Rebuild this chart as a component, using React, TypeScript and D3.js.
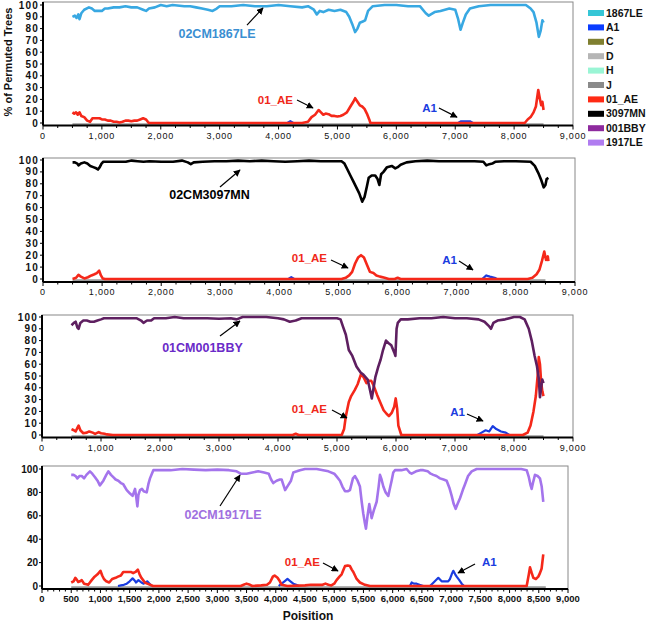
import React from "react";
import * as d3 from "d3";

type Pt = [number, number | null];

// ---------- DATA ----------
const legendNames = ["1867LE", "A1", "C", "D", "H", "J", "01_AE", "3097MN", "001BBY", "1917LE"];
const legendColors = ["#35C6D6", "#0A3CFF", "#7F7F30", "#B5B5B5", "#9AF5D5", "#8A8A8A", "#FF2A14", "#000000", "#8E2A9E", "#B07CF0"];

const p1Main: Pt[] = [[500,90],[540,91],[570,89],[600,92],[620,88],[650,93],[700,96],[780,98],[830,97],[880,95],[950,95],[1000,95],[1050,97],[1100,97],[1200,98],[1300,98],[1400,99],[1500,98],[1600,98],[1700,96],[1750,95],[1800,97],[1900,98],[2000,100],[2100,99],[2200,100],[2400,99],[2500,99],[2600,98],[2700,97],[2800,96],[2880,95],[2950,97],[3000,99],[3200,99],[3400,100],[3600,99],[3800,99],[4000,100],[4200,99],[4400,98],[4500,99],[4600,96],[4650,92],[4700,95],[4760,94],[4850,96],[4950,95],[5050,96],[5150,94],[5200,90],[5250,84],[5300,77],[5340,80],[5380,85],[5430,86],[5470,87],[5520,95],[5600,99],[5800,100],[6000,100],[6200,99],[6400,99],[6500,93],[6550,91],[6650,94],[6750,95],[6900,97],[7000,96],[7050,88],[7090,79],[7130,85],[7180,92],[7250,97],[7400,99],[7600,100],[7800,100],[8000,100],[8200,100],[8280,97],[8330,94],[8380,85],[8420,73],[8450,78],[8480,87],[8500,85]];
const p1AE: Pt[] = [[500,9],[530,8],[560,9],[590,7],[620,9],[650,6],[700,5],[750,2],[800,1],[840,4],[900,4],[960,4],[1000,3],[1050,3],[1100,2],[1150,2],[1200,1],[1250,1],[1300,0.5],[1350,1],[1400,2],[1450,2],[1500,1.5],[1550,2],[1600,2],[1650,3],[1700,4],[1750,3],[1780,1],[1800,0],[4400,0],[4500,1],[4560,5],[4620,7],[4680,11],[4720,9],[4760,7],[4800,8],[4850,7.5],[4900,6],[4950,6],[5000,5.5],[5050,6],[5100,7],[5160,9],[5220,14],[5270,18],[5300,21],[5340,18],[5380,15],[5420,14],[5460,12],[5500,8],[5540,3],[5560,0],[8180,0],[8230,3],[8280,5],[8330,9],[8370,14],[8410,28],[8440,20],[8460,15],[8480,18],[8500,11]];
const p1A1: Pt[] = [[4150,0],[4200,1.5],[4250,0],[4300,null],[7050,0],[7100,1.5],[7250,1.5],[7300,0]];
const p1J: Pt[] = [[500,-1.3],[8500,-1.3]];

const p2Main: Pt[] = [[500,98],[540,98],[580,97],[600,95.5],[640,97],[700,98],[750,97],[800,95],[850,94],[900,93],[930,92],[960,94],[990,97],[1020,98.5],[1200,98.5],[1400,98.5],[1500,99.5],[1600,99],[1700,98.5],[1800,99],[2000,98.5],[2200,98.5],[2350,99.5],[2450,98],[2500,96.5],[2550,98],[2700,98.5],[2900,99],[3100,99],[3300,99.5],[3500,99],[3700,99.5],[3900,99],[4100,98.5],[4300,99],[4500,99.5],[4700,99],[4900,99],[5050,99],[5100,97],[5150,92],[5200,87],[5250,82],[5300,77],[5350,72],[5400,65],[5440,69],[5480,78],[5510,85],[5560,87],[5620,87],[5660,84],[5690,79],[5720,88],[5760,90],[5820,94],[5900,95],[5960,93],[6000,94],[6050,96],[6150,98],[6300,99],[6500,99.5],[6700,99],[6900,99],[7100,99],[7300,99],[7450,98.5],[7500,95.5],[7550,96.5],[7600,97],[7650,98.5],[7800,99],[8000,99],[8250,98.5],[8320,95],[8380,89],[8430,83],[8470,77],[8500,79],[8520,84],[8550,85]];
const p2AE: Pt[] = [[500,0],[560,1],[600,3.5],[640,2],[700,0.5],[760,1.5],[820,3],[870,4],[910,5],[950,7],[980,3],[1010,0.5],[1050,0],[5050,0],[5120,1],[5180,3],[5230,6],[5280,13],[5330,18],[5380,20],[5430,18],[5480,12],[5530,6],[5590,5],[5640,3],[5700,2],[5780,1],[5850,0],[5950,0],[6000,1],[6050,0],[8200,0],[8280,1],[8350,4],[8400,8],[8440,15],[8480,23],[8510,16],[8540,19],[8550,15]];
const p2A1: Pt[] = [[4150,0],[4200,1.5],[4250,0],[4300,null],[7430,0],[7500,3],[7560,2],[7640,1],[7680,0]];
const p2J: Pt[] = [[500,-1.3],[8500,-1.3]];

const p3Main: Pt[] = [[500,93],[540,95],[570,96],[600,91],[620,90],[650,95],[700,97],[760,97],[820,96],[880,96],[940,97],[1000,98],[1050,99],[1200,99],[1400,99],[1600,99],[1680,97],[1720,95],[1780,97],[1850,97],[1900,99],[2100,99],[2250,100],[2400,99],[2600,99],[2800,99],[3000,98.5],[3200,99],[3300,98],[3400,100],[3600,100],[3800,100],[4000,99],[4100,98],[4200,96],[4300,97],[4400,99],[4600,99],[4800,99],[5000,99],[5060,98],[5100,92],[5150,85],[5200,72],[5260,67],[5330,58],[5400,53],[5450,51],[5520,47],[5560,38],[5590,31],[5620,40],[5650,49],[5700,58],[5740,64],[5780,72],[5830,80],[5870,78],[5920,76],[5970,70],[5990,67],[6010,90],[6030,95],[6080,98],[6200,98],[6400,99],[6600,99],[6800,100],[7000,99],[7200,99],[7400,98],[7500,96],[7580,92],[7610,90],[7650,95],[7720,97],[7850,98],[8000,100],[8100,100],[8180,98],[8250,90],[8300,80],[8350,67],[8390,58],[8420,48],[8440,32],[8460,40],[8480,47],[8500,44]];
const p3AE: Pt[] = [[500,5],[540,4],[570,3],[600,6],[620,8],[650,4],[700,1.5],[760,2],[800,3],[860,2],[900,1],[960,2.5],[1000,1.5],[1060,1],[1100,0.5],[1200,0],[4250,0],[4300,1],[4350,0],[5080,0],[5120,5],[5150,16],[5200,28],[5240,33],[5300,38],[5350,43],[5410,52],[5450,49],[5500,44],[5540,46],[5580,46],[5620,42],[5680,34],[5730,28],[5790,21],[5840,18],[5880,16],[5930,19],[5970,24],[5995,31],[6020,22],[6040,8],[6090,0],[8150,0],[8230,2],[8280,8],[8330,20],[8370,33],[8400,50],[8420,66],[8440,60],[8460,45],[8480,37],[8500,33]];
const p3A1: Pt[] = [[7380,0],[7450,2],[7520,4],[7580,3],[7640,7.5],[7700,5],[7780,3],[7860,2],[7920,0]];
const p3J: Pt[] = [[500,-1.3],[8500,-1.3]];

const p4Main: Pt[] = [[500,95],[540,95],[575,94],[605,92],[640,94],[680,94],[720,92],[760,95],[820,98],[860,96],[907,93],[950,90],[990,86],[1050,90],[1100,95],[1135,98],[1180,95],[1220,93],[1260,91],[1306,90],[1350,88],[1390,87],[1450,82],[1506,79],[1550,77],[1592,83],[1615,75],[1632,68],[1650,78],[1677,82],[1710,83],[1740,81],[1791,80],[1820,87],[1848,92],[1880,96],[1905,99],[2000,99],[2200,99],[2400,100],[2600,99.5],[2800,99],[3000,99.5],[3200,99],[3330,98],[3400,96],[3500,96],[3600,97],[3700,98],[3800,97],[3880,96],[3920,91],[3957,88],[4014,90],[4070,91],[4100,91],[4140,85],[4160,82],[4210,86],[4260,90],[4300,97],[4360,98],[4414,99],[4500,100],[4700,100],[4900,98],[5000,96],[5050,93],[5098,90],[5140,85],[5184,81],[5230,81],[5269,82],[5320,92],[5355,94],[5400,90],[5440,85],[5470,72],[5497,62],[5520,55],[5543,49],[5570,60],[5600,70],[5620,64],[5640,58],[5680,65],[5726,72],[5760,85],[5783,95],[5810,91],[5840,85],[5880,80],[5925,77],[5960,85],[5982,90],[6010,97],[6039,99],[6150,99],[6239,100],[6290,97],[6325,96],[6400,98],[6470,99],[6525,99],[6600,98],[6650,96],[6696,95],[6750,94],[6810,92],[6870,91],[6924,90],[6970,84],[7010,77],[7045,70],[7078,66],[7110,70],[7152,75],[7200,82],[7238,87],[7290,94],[7352,98],[7437,100],[7600,100],[7800,100],[8000,100],[8200,100],[8293,99],[8330,93],[8360,86],[8378,83],[8400,88],[8435,95],[8480,94],[8520,92],[8550,85],[8577,72]];
const p4AE: Pt[] = [[500,3],[540,4],[570,7],[600,5],[620,3.5],[650,4],[680,5],[720,2],[760,1.5],[790,1],[820,3],[850,5],[900,8],[950,10],[1000,13],[1030,9],[1060,6],[1100,4],[1150,3],[1200,6],[1260,7],[1300,8],[1350,9],[1390,12],[1450,12],[1520,12],[1560,11],[1600,12],[1640,14],[1670,10],[1700,7],[1730,5],[1760,3],[1800,2],[1850,1],[1900,0],[3400,0],[3450,1],[3500,2],[3560,1],[3600,0],[3750,0.5],[3850,1],[3900,3],[3950,8],[3980,9],[4030,7],[4070,4],[4100,1],[4200,0],[4500,0.5],[4600,1],[4700,1],[4800,1],[4850,2],[4900,1],[4950,0.5],[5000,2],[5040,5],[5090,8],[5127,10],[5160,14],[5184,17],[5230,17.5],[5269,17],[5300,14],[5327,12],[5384,6],[5440,3],[5526,1],[5611,0],[8293,0],[8330,10],[8350,16],[8380,11],[8407,7],[8450,6],[8492,8],[8520,11],[8549,15],[8577,27]];
const p4A1: Pt[] = [[1300,0],[1350,0.5],[1400,1],[1450,2],[1500,4],[1550,6.5],[1580,5],[1610,3],[1650,5],[1700,3],[1740,2],[1800,4],[1840,2],[1880,0],[1900,null],[4050,0],[4100,2],[4150,4],[4200,6],[4250,4],[4300,2],[4350,1],[4400,0],[4450,null],[6296,0],[6325,3],[6360,2],[6410,2],[6460,1],[6525,0],[6639,0],[6700,3],[6781,7],[6838,4],[6900,4],[6950,4],[6981,6],[7010,10],[7038,13],[7070,10],[7095,8],[7140,5],[7181,2],[7221,0]];
const p4J: Pt[] = [[500,-1.3],[8620,-1.3]];

const xTicksA = d3.range(0, 9001, 1000);
const xTicksB = d3.range(0, 9001, 500);
const yTicksA = d3.range(0, 101, 10);
const yTicksB = d3.range(0, 101, 20);

type Ann = { text: string; x: number; v: number; anchor: string; color: string; size: number; from: [number, number]; to: [number, number] };

const p1Ann: Ann[] = [
  { text: "02CM1867LE", x: 2955, v: 76, anchor: "middle", color: "#3A8FD2", size: 12.5, from: [3464, 83], to: [3736, 97.5] },
  { text: "01_AE", x: 4245, v: 19.5, anchor: "end", color: "#F0281A", size: 11.5, from: [4313, 19.5], to: [4585, 12.7] },
  { text: "A1", x: 6690, v: 12.7, anchor: "end", color: "#1A3CE0", size: 11.5, from: [6724, 12.7], to: [7030, 5] },
];
const p2Ann: Ann[] = [
  { text: "02CM3097MN", x: 2817, v: 70.6, anchor: "middle", color: "#000000", size: 12.5, from: [2994, 77.3], to: [3333, 91.6] },
  { text: "01_AE", x: 4805, v: 17.6, anchor: "end", color: "#F0281A", size: 11.5, from: [4872, 16], to: [5160, 9.2] },
  { text: "A1", x: 7004, v: 16, anchor: "end", color: "#1A3CE0", size: 11.5, from: [7038, 15.1], to: [7275, 7.6] },
];
const p3Ann: Ann[] = [
  { text: "01CM001BBY", x: 2720, v: 73.7, anchor: "middle", color: "#6A2AC8", size: 12.5, from: [3017, 83.9], to: [3356, 96.6] },
  { text: "01_AE", x: 4831, v: 22, anchor: "end", color: "#F0281A", size: 11.5, from: [4915, 21.2], to: [5169, 14.4] },
  { text: "A1", x: 7169, v: 19.5, anchor: "end", color: "#1A3CE0", size: 11.5, from: [7203, 17.8], to: [7475, 11.9] },
];
const p4Ann: Ann[] = [
  { text: "02CM1917LE", x: 3097, v: 60.7, anchor: "middle", color: "#A070E0", size: 12.5, from: [3046, 68.4], to: [3388, 94.9] },
  { text: "01_AE", x: 4757, v: 20.5, anchor: "end", color: "#F0281A", size: 11.5, from: [4808, 19.7], to: [5065, 12.8] },
  { text: "A1", x: 7529, v: 20.5, anchor: "start", color: "#1A3CE0", size: 11.5, from: [7409, 18.8], to: [7118, 11.1] },
];

// ---------- LAYOUT ----------
type Panel = {
  left: number; right: number; top: number; y100: number; y0: number; axisY: number;
  main: Pt[]; mainColor: string; ae: Pt[]; a1: Pt[]; j: Pt[]; ann: Ann[];
  xTicks: number[]; xMinor: number; yTicks: number[]; big: boolean;
};

const panels: Panel[] = [
  { left: 43, right: 573, top: 2, y100: 5, y0: 123, axisY: 125.5, main: p1Main, mainColor: "#38A8E2", ae: p1AE, a1: p1A1, j: p1J, ann: p1Ann, xTicks: xTicksA, xMinor: 250, yTicks: yTicksA, big: false },
  { left: 43, right: 575, top: 158, y100: 160, y0: 279, axisY: 282, main: p2Main, mainColor: "#000000", ae: p2AE, a1: p2A1, j: p2J, ann: p2Ann, xTicks: xTicksA, xMinor: 250, yTicks: yTicksA, big: false },
  { left: 42, right: 573, top: 315, y100: 317, y0: 435, axisY: 437.5, main: p3Main, mainColor: "#5E1F60", ae: p3AE, a1: p3A1, j: p3J, ann: p3Ann, xTicks: xTicksA, xMinor: 250, yTicks: yTicksA, big: false },
  { left: 42, right: 568, top: 466, y100: 469, y0: 586, axisY: 589, main: p4Main, mainColor: "#A474EC", ae: p4AE, a1: p4A1, j: p4J, ann: p4Ann, xTicks: xTicksB, xMinor: 100, yTicks: yTicksB, big: true },
];

const FONT = "'Liberation Sans', Arial, sans-serif";

function PanelView({ p }: { p: Panel }) {
  const x = d3.scaleLinear().domain([0, 9000]).range([p.left, p.right]);
  const y = d3.scaleLinear().domain([0, 100]).range([p.y0, p.y100]);
  const line = d3.line<Pt>().defined((d) => d[1] !== null).x((d) => x(d[0])).y((d) => y(d[1] as number));
  const minors = d3.range(0, 9001, p.xMinor).filter((v) => !p.xTicks.includes(v));
  return (
    <g>
      <rect x={p.left} y={p.top} width={p.right - p.left} height={p.axisY - p.top} fill="white" stroke="#888" strokeWidth={1} />
      <path d={line(p.j) || ""} fill="none" stroke="#9A9A9A" strokeWidth={2.5} />
      <path d={line(p.a1) || ""} fill="none" stroke="#1A3CE0" strokeWidth={2.2} strokeLinejoin="round" />
      <path d={line(p.ae) || ""} fill="none" stroke="#F5281A" strokeWidth={2.6} strokeLinejoin="round" />
      <path d={line(p.main) || ""} fill="none" stroke={p.mainColor} strokeWidth={2.6} strokeLinejoin="round" />
      <line x1={p.left} x2={p.left} y1={p.top} y2={p.axisY} stroke="#000" strokeWidth={2} />
      <line x1={p.left} x2={p.right} y1={p.axisY} y2={p.axisY} stroke="#000" strokeWidth={2} />
      {p.yTicks.map((t) => (
        <g key={"y" + t}>
          <line x1={p.left - 3} x2={p.left} y1={y(t)} y2={y(t)} stroke="#000" strokeWidth={1} />
          <text x={p.left - 4} y={y(t)} dy="0.35em" textAnchor="end" fontFamily={FONT} fontWeight="bold"
            fontSize={10} letterSpacing={p.big ? 0 : 1.2} fill="#111">{t}</text>
        </g>
      ))}
      {minors.map((t) => (
        <line key={"m" + t} x1={x(t)} x2={x(t)} y1={p.axisY} y2={p.axisY + 2.5} stroke="#000" strokeWidth={1} />
      ))}
      {p.xTicks.map((t) => (
        <g key={"x" + t}>
          <line x1={x(t)} x2={x(t)} y1={p.axisY} y2={p.axisY + 4} stroke="#000" strokeWidth={1} />
          <text x={x(t)} y={p.axisY + 13} textAnchor="middle" fontFamily={FONT}
            fontWeight={p.big ? "bold" : "normal"} fontSize={p.big ? 9.5 : 9} letterSpacing={p.big ? 0 : 0.8} fill="#111">
            {d3.format(",")(t)}
          </text>
        </g>
      ))}
      {p.ann.map((a, i) => (
        <g key={"a" + i}>
          <text x={x(a.x)} y={y(a.v)} dy="0.35em" textAnchor={a.anchor} fontFamily={FONT} fontWeight="bold"
            fontSize={a.size} fill={a.color}>{a.text}</text>
          <line x1={x(a.from[0])} y1={y(a.from[1])} x2={x(a.to[0])} y2={y(a.to[1])} stroke="#000" strokeWidth={1.2} markerEnd="url(#arrowHead)" />
        </g>
      ))}
    </g>
  );
}

export default function App() {
  const legendX = 588;
  const legendY0 = 13;
  const legendStep = 14.4;
  return (
    <svg width={648} height={622} style={{ position: "absolute", left: 0, top: 0, background: "white" }}>
      <defs>
        <marker id="arrowHead" viewBox="0 0 10 10" refX="9" refY="5" markerWidth="7" markerHeight="7" orient="auto" markerUnits="userSpaceOnUse">
          <path d="M0,0 L10,5 L0,10 z" fill="#000" />
        </marker>
      </defs>
      <rect x={0} y={0} width={648} height={622} fill="white" />
      {panels.map((p, i) => <PanelView key={i} p={p} />)}
      <text transform="translate(12,62) rotate(-90)" textAnchor="middle" fontFamily={FONT} fontWeight="bold" fontSize={11} fill="#111">
        % of Permuted Trees
      </text>
      <text x={308} y={620} textAnchor="middle" fontFamily={FONT} fontWeight="bold" fontSize={12} fill="#111">Poisition</text>
      {legendNames.map((n, i) => (
        <g key={n}>
          <rect x={legendX} y={legendY0 + i * legendStep - 3} width={16} height={6} fill={legendColors[i]} />
          <text x={legendX + 18} y={legendY0 + i * legendStep} dy="0.35em" fontFamily={FONT} fontWeight="bold" fontSize={10.5} fill="#111">{n}</text>
        </g>
      ))}
    </svg>
  );
}
